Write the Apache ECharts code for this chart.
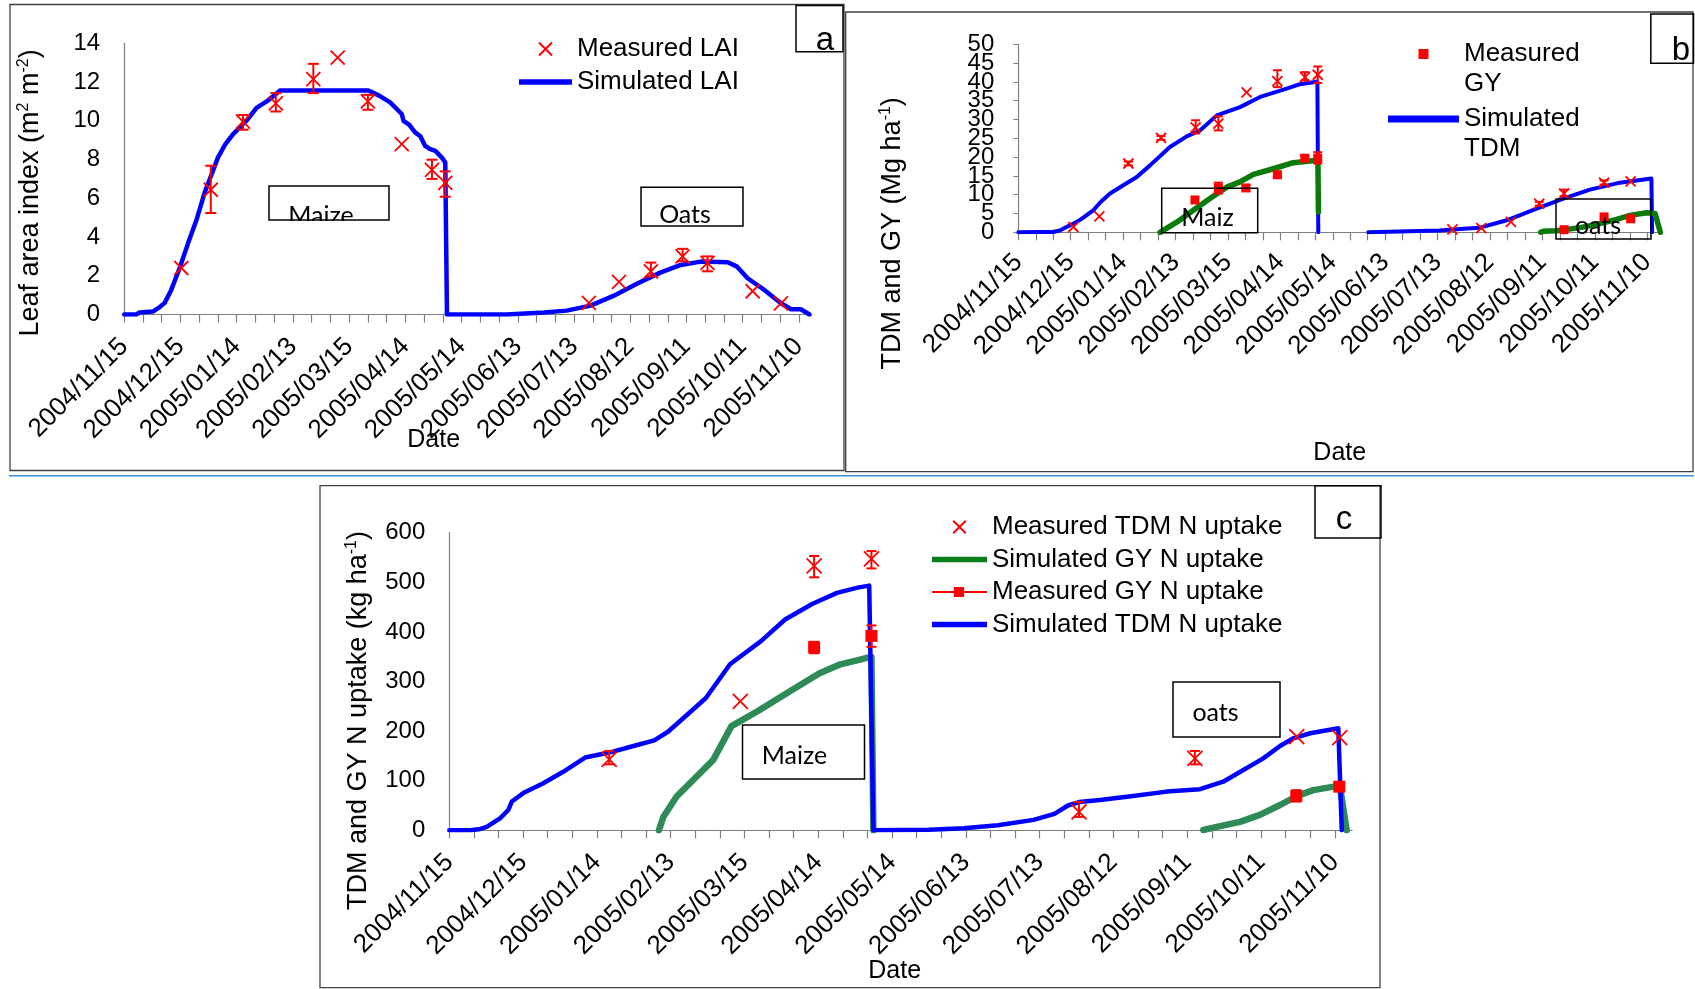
<!DOCTYPE html>
<html><head><meta charset="utf-8">
<script src="https://cdn.jsdelivr.net/npm/echarts@6/dist/echarts.min.js"></script>
<style>html,body{margin:0;padding:0;background:#fff}#c{width:1695px;height:989px}</style>
</head><body><div id="c"></div><script>
// ---------- tick labels ----------
const dateLabels = ['2004/11/15','2004/12/15','2005/01/14','2005/02/13','2005/03/15','2005/04/14','2005/05/14','2005/06/13','2005/07/13','2005/08/12','2005/09/11','2005/10/11','2005/11/10'];
const yTicksB = [0,5,10,15,20,25,30,35,40,45,50];
// x values are days since 2004/11/15

// ---------- panel a : LAI ----------
const simLAI = [[0,0],[6.4,0],[8.2,0.1],[15.3,0.15],[18.5,0.35],[21.6,0.6],[25.1,1.27],[29.6,2.4],[34,3.66],[38.5,4.86],[43,6.32],[46.5,7.2],[50,8.1],[54,8.8],[58,9.3],[65.2,10.0],[70.6,10.67],[76,11.0],[80,11.3],[83,11.56],[130.3,11.56],[136,11.3],[141.9,10.95],[148.1,10.35],[149,10.0],[152,9.8],[155.2,9.4],[158,9.2],[160.6,8.7],[163,8.55],[166,8.45],[169.5,8.1],[171.3,7.85],[172.2,0],[204,0],[205,0.05],[224,0.1],[236,0.2],[248.8,0.46],[261,0.96],[273.8,1.6],[286,2.16],[297,2.56],[307.6,2.73],[322,2.7],[327,2.47],[332.6,1.87],[341.5,1.27],[350.4,0.58],[355.8,0.27],[361,0.27],[365.6,0]];
const measLAI = [[30.5,2.4],[46.2,6.44],[63.4,9.96],[80.9,10.9],[100.9,12.15],[113.9,13.26],[130,11.0],[148.1,8.8],[164.2,7.47],[171.3,6.79],[247.9,0.6],[264,1.69],[281,2.23],[297.9,3.0],[311.2,2.66],[335.3,1.2],[350.4,0.57]];
const errLAI = [[46.2,5.24,7.68],[63.4,9.54,10.3],[80.9,10.48,11.43],[100.9,11.43,12.94],[130,10.57,11.34],[164.2,7.0,7.99],[171.3,6.08,7.39],[281,1.97,2.68],[297.9,2.75,3.39],[311.2,2.23,3.0]];

// ---------- panel b : TDM and GY ----------
const simTDM = [[0,0],[12,0.05],[19.6,0.1],[23.9,0.5],[25.9,1.0],[31.6,2.3],[36,3.5],[42.9,5.85],[47,8],[52.5,10.3],[60.1,12.5],[67.8,14.7],[75.4,17.8],[86.8,22.7],[96.4,25.5],[104,27.1],[113.6,31.1],[126.9,33.3],[138.4,36.0],[153.6,38.2],[161.2,39.4],[169.8,40.0],[171.2,40.1],[171.7,0],[186,null],[200.3,0],[241,0.5],[257,1.0],[264.3,1.24],[279.6,3.2],[296.7,6.3],[312,8.95],[327.2,11.35],[344.4,13.2],[354,13.8],[362.4,14.3],[362.8,0]];
const simGY = [[81.1,0],[90.7,2.7],[100.2,5.85],[109.7,9.0],[119.3,12.0],[126.9,13.4],[134.6,15.4],[146,16.9],[157.4,18.5],[169.8,19.1],[171.5,19.5],[171.8,5.4],[200,null],[299,0],[300.5,0.27],[308.2,0.4],[321.5,1.24],[331,2.1],[340.6,3.2],[350.1,4.5],[359.7,5.2],[364.5,5.0],[367.5,0]];
const measTDM = [[31.5,1.41],[46.4,4.25],[63,18.3],[81.7,25.1],[101.5,27.9],[114.5,28.9],[130.7,37.2],[148.3,40.2],[164.1,41.3],[171.4,41.9],[248.5,0.8],[265,1.1],[282,2.8],[298.2,7.6],[312.4,10.3],[335.3,13.2],[350.5,13.55]];
const errTDM = [[63,17.8,18.8],[81.7,24.6,25.6],[101.5,26.3,29.8],[114.5,27.1,30.85],[148.3,38.6,43.1],[164.1,40.4,42.6],[171.4,39.7,44.1],[298.2,7.1,8.1],[312.4,9.6,11.35],[335.3,12.7,13.8]];
const measGY = [[101.1,8.6],[114.5,11.8],[130.3,11.8],[148.3,15.3],[164,19.7],[171.4,19.7],[312.4,0.7],[335.3,4.1],[350.5,3.6]];
const errGY = [[114.5,10.3,13.2],[130.3,11.1,12.6],[148.3,14.5,16.1],[164,19.1,20.5],[171.4,18.3,21.3]];

// ---------- panel c : N uptake ----------
const simTDMN = [[0,0],[8.4,0.2],[12,2],[15.2,7],[20.6,24],[24,41],[25.4,58],[30.1,75],[38.2,95],[46.3,118],[55.2,146.7],[65,156.7],[74.9,170],[83.3,181.3],[88.9,198.7],[96.7,233],[104.3,266.7],[114.1,334.7],[126.7,381.3],[136.5,425],[147.7,456.7],[157.6,478.7],[166,489.3],[170.7,493.3],[172.4,0],[195,1],[209,4],[223,10],[237.5,21],[246,33],[251.5,50],[256,57],[264.5,61],[278,69],[291.6,78],[305.2,83],[314.6,98],[322.8,121.6],[330.9,145],[337.7,170],[343.1,185.5],[350,195.6],[361.4,205.6],[362.8,0]];
const simGYN = [[85.2,0],[87,27],[92.4,68],[97.8,95],[103.3,122],[107.3,142],[114.7,210],[125.3,240],[139.3,283],[150.5,316.7],[159,334.7],[167.4,344.7],[171.6,350],[172.4,0],[250,null],[306.5,0.6],[312,7],[321.4,17],[329.5,31],[337.7,51],[344.5,69],[351.2,81],[362,90],[364.8,0]];
const measTDMN = [[65,143],[118.3,260],[148.3,533],[171.6,547],[256,37],[303.1,145],[344.5,189],[362,187]];
const errTDMN = [[65,133,160],[148.3,510,553],[171.6,528,563],[256,27,57],[303.1,133,160]];
const measGYN = [[148.3,369],[171.6,392],[344.3,69],[361.8,88]];
const errGYN = [[148.3,357,380],[171.6,370,413],[344.3,58,81]];

// ---------- styling ----------
const FONT = '"Liberation Sans", Arial, sans-serif';
const AFONT = 'Lato, "Open Sans", sans-serif';
const XPATH = 'path://M0,0L10,10M10,0L0,10';
const SQPATH = 'path://M0,0L10,0L10,10L0,10Z';
const LINEPATH = 'path://M0,0L60,0L60,6L0,6Z';
const LSQPATH = 'path://M0,5L22,5L22,1L32,1L32,5L55,5L55,7L32,7L32,11L22,11L22,7L0,7Z';
const AX = '#7f7f7f';

const labelDays = dateLabels.map((_, i) => i * 30);
const tickDays = [];
for (let d = 0; d <= 360; d += 10) tickDays.push(d);
const yLabB1 = yTicksB.filter((_, i) => i % 2 === 0);
const yLabB2 = yTicksB.filter((_, i) => i % 2 === 1);

function xAxis(gi, max, margin, nameGap, padR) {
  return {
    type: 'value', gridIndex: gi, min: 0, max: max,
    axisLine: {show: true, onZero: false, lineStyle: {color: AX, width: 1.2}},
    axisTick: {show: true, length: 8, customValues: tickDays, lineStyle: {color: AX, width: 1.2}},
    axisLabel: {show: true, customValues: labelDays, rotate: 45, margin: margin, fontSize: 26, fontFamily: FONT, color: '#000',
      formatter: v => dateLabels[Math.round(v / 30)]},
    splitLine: {show: false},
    name: 'Date', nameLocation: 'middle', nameGap: nameGap, nameMoveOverlap: false,
    nameTextStyle: {fontSize: 25, fontFamily: FONT, color: '#000', padding: [0, padR, 0, 0]}
  };
}
const yLabStyle = {margin: 24, fontSize: 24, fontFamily: FONT, color: '#000', showMinLabel: true, showMaxLabel: true, hideOverlap: false};
function yAxis(gi, max, interval, name, nameGap, tick, shiftDown, labVals, tickVals) {
  const lab = Object.assign({}, yLabStyle);
  if (labVals) lab.customValues = labVals;
  const tk = {show: tick, length: 5, lineStyle: {color: AX}};
  if (tickVals) tk.customValues = tickVals;
  return {
    type: 'value', gridIndex: gi, min: 0, max: max, interval: interval,
    axisLine: {show: true, lineStyle: {color: AX, width: 1.2}},
    axisTick: tk,
    axisLabel: lab,
    splitLine: {show: false},
    name: name, nameLocation: 'middle', nameGap: nameGap, nameMoveOverlap: false,
    nameTextStyle: {fontSize: 27, fontFamily: FONT, color: '#000', lineHeight: 30, padding: [0, shiftDown * 2, 0, 0],
      rich: {s: {fontSize: 16, fontFamily: FONT, color: '#000', lineHeight: 16, verticalAlign: 'top'}}}
  };
}
function lineS(name, data, gi, color, width, z) {
  return {type: 'line', name: name, xAxisIndex: gi, yAxisIndex: gi, data: data, symbol: 'none', showSymbol: false,
    lineStyle: {color: color, width: width, cap: 'round', join: 'round'}, itemStyle: {color: color}, z: z, silent: true};
}
function xS(name, data, gi, size, z) {
  return {type: 'scatter', name: name, xAxisIndex: gi, yAxisIndex: gi, data: data, symbol: XPATH, symbolSize: size,
    itemStyle: {color: '#ff0000', borderColor: '#ff0000', borderWidth: 1.8, opacity: 1}, z: z, silent: true};
}
function sqS(name, data, gi, size, z) {
  return {type: 'scatter', name: name, xAxisIndex: gi, yAxisIndex: gi, data: data, symbol: SQPATH, symbolSize: size,
    itemStyle: {color: '#ff0000', opacity: 1}, z: z, silent: true};
}
function errS(name, data, gi, capW) {
  return {type: 'custom', name: name, xAxisIndex: gi, yAxisIndex: gi, data: data, silent: true, z: 4,
    encode: {x: 0, y: [1, 2]},
    renderItem: function (params, api) {
      const x = api.value(0);
      const p1 = api.coord([x, api.value(1)]);
      const p2 = api.coord([x, api.value(2)]);
      const st = {stroke: '#ff0000', lineWidth: 2};
      return {type: 'group', children: [
        {type: 'line', shape: {x1: p1[0], y1: p1[1], x2: p2[0], y2: p2[1]}, style: st},
        {type: 'line', shape: {x1: p1[0] - capW, y1: p1[1], x2: p1[0] + capW, y2: p1[1]}, style: st},
        {type: 'line', shape: {x1: p2[0] - capW, y1: p2[1], x2: p2[0] + capW, y2: p2[1]}, style: st}
      ]};
    }};
}
function box(x, y, w, h, z) {
  return {type: 'rect', shape: {x: x, y: y, width: w, height: h}, style: {fill: 'none', stroke: '#000', lineWidth: 1.5}, z: z || 102, silent: true};
}
function frame(x, y, w, h) {
  return {type: 'rect', shape: {x: x, y: y, width: w, height: h}, style: {fill: 'none', stroke: '#404040', lineWidth: 1.3}, z: 90, silent: true};
}
function txt(t, x, y, size, font) {
  return {type: 'text', x: x, y: y, style: {text: t, fontSize: size, fontFamily: font, fill: '#000', textAlign: 'center', textVerticalAlign: 'middle', align: 'center', verticalAlign: 'middle'}, z: 100, silent: true};
}

const legendText = {fontSize: 26, fontFamily: FONT, color: '#000', lineHeight: 26};

const option = {
  animation: false,
  backgroundColor: '#fff',
  grid: [
    {left: 124.2, top: 43.3, width: 686, height: 271.2, outerBoundsMode: 'none', containLabel: false},
    {left: 1018.3, top: 44.3, width: 642.9, height: 188, outerBoundsMode: 'none', containLabel: false},
    {left: 449.3, top: 532.7, width: 902.8, height: 297.6, outerBoundsMode: 'none', containLabel: false}
  ],
  xAxis: [xAxis(0, 366, 28, 113, 67), xAxis(1, 368, 26, 208, 0), xAxis(2, 367, 28, 128, 12)],
  yAxis: [
    yAxis(0, 14, 2, 'Leaf area index (m{s|2} m{s|-2})', 79, false, 14),
    yAxis(1, 50, 5, 'TDM and GY (Mg ha{s|-1})', 111, true, 95, yLabB1, yTicksB),
    yAxis(2, 600, 100, 'TDM and GY N uptake (kg ha{s|-1})', 76, false, 39),
    {type: 'value', gridIndex: 1, min: 0, max: 50, position: 'left',
      axisLine: {show: false}, axisTick: {show: false}, splitLine: {show: false},
      axisLabel: Object.assign({}, yLabStyle, {customValues: yLabB2})}
  ],
  legend: [
    {left: 519, top: 36, orient: 'vertical', padding: 0, itemWidth: 53, itemHeight: 13, itemGap: 7, selectedMode: false,
      textStyle: legendText,
      data: [
        {name: 'Measured LAI', icon: XPATH, itemStyle: {color: '#ff0000', borderColor: '#ff0000', borderWidth: 2}},
        {name: 'Simulated LAI', icon: LINEPATH, itemStyle: {color: '#0000ff', borderWidth: 0}}
      ]},
    {left: 1388, top: 9, orient: 'vertical', padding: 0, itemWidth: 71, itemHeight: 10, itemGap: -25, selectedMode: false,
      formatter: n => '\n' + n.replace(' ', '\n'),
      textStyle: {fontSize: 26, fontFamily: FONT, color: '#000', lineHeight: 30},
      data: [
        {name: 'Measured GY', icon: SQPATH, itemStyle: {color: '#ff0000', borderWidth: 0}},
        {name: 'Simulated TDM', icon: LINEPATH, itemStyle: {color: '#0000ff', borderWidth: 0}}
      ]},
    {left: 932, top: 514, orient: 'vertical', padding: 0, itemWidth: 55, itemHeight: 12.5, itemGap: 6.5, selectedMode: false,
      textStyle: legendText,
      data: [
        {name: 'Measured TDM N uptake', icon: XPATH, itemStyle: {color: '#ff0000', borderColor: '#ff0000', borderWidth: 2}},
        {name: 'Simulated GY N uptake', icon: LINEPATH, itemStyle: {color: '#0b7d1a', borderWidth: 0}},
        {name: 'Measured GY N uptake', icon: LSQPATH, itemStyle: {color: '#ff0000', borderWidth: 0}},
        {name: 'Simulated TDM N uptake', icon: LINEPATH, itemStyle: {color: '#0000ff', borderWidth: 0}}
      ]}
  ],
  series: [
    lineS('Simulated LAI', simLAI, 0, '#0000ff', 4.5, 2),
    errS('errLAI', errLAI, 0, 5.5),
    xS('Measured LAI', measLAI, 0, 14, 5),

    lineS('Simulated TDM', simTDM, 1, '#0000ff', 4, 2),
    lineS('Simulated GY', simGY, 1, '#0a7a0a', 5.5, 3),
    errS('errTDM', errTDM, 1, 4.5),
    errS('errGY', errGY, 1, 4.5),
    xS('Measured TDM', measTDM, 1, 10, 5),
    sqS('Measured GY', measGY, 1, 9, 5),

    lineS('Simulated GY N uptake', simGYN, 2, '#2e8b57', 6.5, 2),
    lineS('Simulated TDM N uptake', simTDMN, 2, '#0000ff', 4.5, 3),
    errS('errTDMN', errTDMN, 2, 5),
    errS('errGYN', errGYN, 2, 5),
    xS('Measured TDM N uptake', measTDMN, 2, 15, 5),
    sqS('Measured GY N uptake', measGYN, 2, 12, 5)
  ],
  graphic: [
    frame(10, 4.5, 834, 466),
    frame(845.7, 12, 847.3, 459.7),
    frame(320, 485.7, 1060, 502),
    {type: 'line', shape: {x1: 9, y1: 475.7, x2: 1694, y2: 475.7}, style: {stroke: '#3a8fd5', lineWidth: 1.6}, z: 90, silent: true},
    // panel a annotations
    txt('Maize', 321, 215.5, 25, AFONT),
    {type: 'rect', shape: {x: 283, y: 221, width: 78, height: 14}, style: {fill: '#fff'}, z: 101, silent: true},
    box(269, 186, 120, 34),
    txt('Oats', 685, 215, 25, AFONT),
    box(641, 187.3, 102, 38.7),
    txt('a', 825, 40.6, 33, FONT),
    box(796, 5.4, 47, 46.3),
    // panel b annotations
    txt('Maiz', 1207.5, 217.5, 25, AFONT),
    box(1161.7, 188.3, 96, 44.4),
    txt('oats', 1598, 226, 25, AFONT),
    box(1556, 199, 95, 40),
    txt('b', 1681, 51, 33, FONT),
    box(1650.8, 14, 42.7, 49.3),
    // panel c annotations
    txt('Maize', 794.5, 756, 25, AFONT),
    box(742.5, 725, 122, 54),
    txt('oats', 1215.5, 712.5, 25, AFONT),
    box(1173, 682, 107, 55),
    txt('c', 1344, 520, 33, FONT),
    box(1315, 485.7, 66, 52.3)
  ]
};
const chart = echarts.init(document.getElementById('c'), null, {renderer: 'canvas'});
chart.setOption(option);
</script></body></html>
